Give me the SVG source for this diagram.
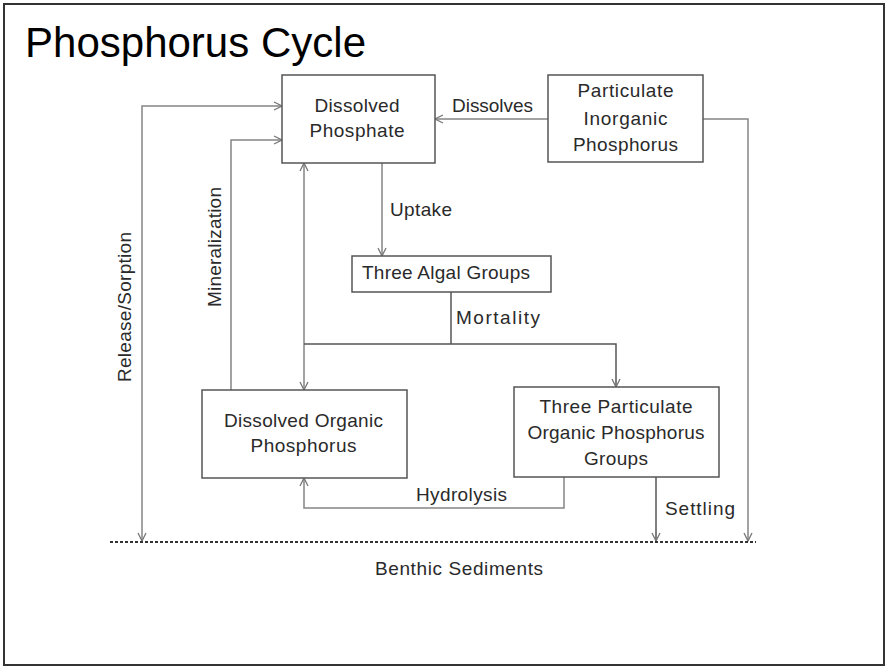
<svg xmlns="http://www.w3.org/2000/svg" width="887" height="668" viewBox="0 0 887 668">
  <style>
    .frame { fill: #ffffff; stroke: #333333; stroke-width: 2; }
    .box { fill: #ffffff; stroke: #555555; stroke-width: 1.5; }
    .lbl { font-family: "Liberation Sans", Arial, sans-serif; font-size: 19px; fill: #2a2a2a; }
    .mid { text-anchor: middle; }
    .title { font-family: "Liberation Sans", Arial, sans-serif; font-size: 42px; fill: #000000; }
    .conn { fill: none; stroke: #858585; stroke-width: 1.5; }
    .conn.dark { stroke: #555555; }
    .ground { fill: none; stroke: #333333; stroke-width: 2; stroke-dasharray: 3 2; }
  </style>
  <defs>
    <marker id="arrow" viewBox="0 0 10 10" refX="9" refY="5" markerWidth="10" markerHeight="10" markerUnits="userSpaceOnUse" orient="auto-start-reverse">
      <path d="M1,1 L9,5 L1,9" fill="none" stroke="#777777" stroke-width="1.3"/>
    </marker>
  </defs>

  <rect class="frame" x="4" y="4" width="880" height="661"/>
  <text class="title" x="25" y="57" textLength="341">Phosphorus Cycle</text>

  <!-- connectors -->
  <g id="connectors">
    <path class="conn" d="M282,106 L142,106 L142,541" marker-start="url(#arrow)" marker-end="url(#arrow)"/>
    <path class="conn" d="M231,390 L231,140 L282,140" marker-end="url(#arrow)"/>
    <path class="conn" d="M304,163 L304,390" marker-start="url(#arrow)" marker-end="url(#arrow)"/>
    <path class="conn" d="M548,119 L435,119" marker-end="url(#arrow)"/>
    <path class="conn" d="M703,119 L748,119 L748,541" marker-end="url(#arrow)"/>
    <path class="conn" d="M382,163 L382,256" marker-end="url(#arrow)"/>
    <path class="conn dark" d="M451,292 L451,344"/>
    <path class="conn dark" d="M304,344 L616,344 L616,387" marker-end="url(#arrow)"/>
    <path class="conn" d="M564,477 L564,508 L304,508 L304,478" marker-end="url(#arrow)"/>
    <path class="conn dark" d="M656,477 L656,541" marker-end="url(#arrow)"/>
    <line class="ground" x1="110" y1="542" x2="756" y2="542"/>

    <text class="lbl mid" x="492.5" y="112" textLength="81">Dissolves</text>
    <text class="lbl" x="390" y="216" textLength="62">Uptake</text>
    <text class="lbl" x="456" y="324" textLength="84">Mortality</text>
    <text class="lbl mid" x="461.5" y="501" textLength="91">Hydrolysis</text>
    <text class="lbl" x="665" y="515" textLength="70">Settling</text>
    <text class="lbl mid" transform="translate(131,307) rotate(-90)" x="0" y="0" textLength="150">Release/Sorption</text>
    <text class="lbl mid" transform="translate(221,247) rotate(-90)" x="0" y="0" textLength="120">Mineralization</text>
  </g>

  <g id="dissolved-phosphate">
    <rect class="box" x="282" y="75" width="153" height="88"/>
    <text class="lbl mid" x="357" y="112" textLength="85">Dissolved</text>
    <text class="lbl mid" x="357" y="137" textLength="95">Phosphate</text>
  </g>

  <g id="particulate-inorganic-phosphorus">
    <rect class="box" x="548" y="75" width="155" height="87"/>
    <text class="lbl mid" x="625.5" y="97" textLength="96">Particulate</text>
    <text class="lbl mid" x="625.5" y="125" textLength="84">Inorganic</text>
    <text class="lbl mid" x="625.5" y="151" textLength="105">Phosphorus</text>
  </g>

  <g id="three-algal-groups">
    <rect class="box" x="352" y="256" width="199" height="36"/>
    <text class="lbl mid" x="446" y="279" textLength="168">Three Algal Groups</text>
  </g>

  <g id="dissolved-organic-phosphorus">
    <rect class="box" x="202" y="390" width="205" height="88"/>
    <text class="lbl mid" x="303.5" y="427" textLength="159">Dissolved Organic</text>
    <text class="lbl mid" x="303.5" y="452" textLength="106">Phosphorus</text>
  </g>

  <g id="particulate-organic-phosphorus">
    <rect class="box" x="514" y="387" width="205" height="90"/>
    <text class="lbl mid" x="616" y="413" textLength="153">Three Particulate</text>
    <text class="lbl mid" x="616" y="439" textLength="177">Organic Phosphorus</text>
    <text class="lbl mid" x="616" y="465" textLength="64">Groups</text>
  </g>

  <g id="benthic-sediments">
    <text class="lbl mid" x="459" y="575" textLength="168">Benthic Sediments</text>
  </g>
</svg>
